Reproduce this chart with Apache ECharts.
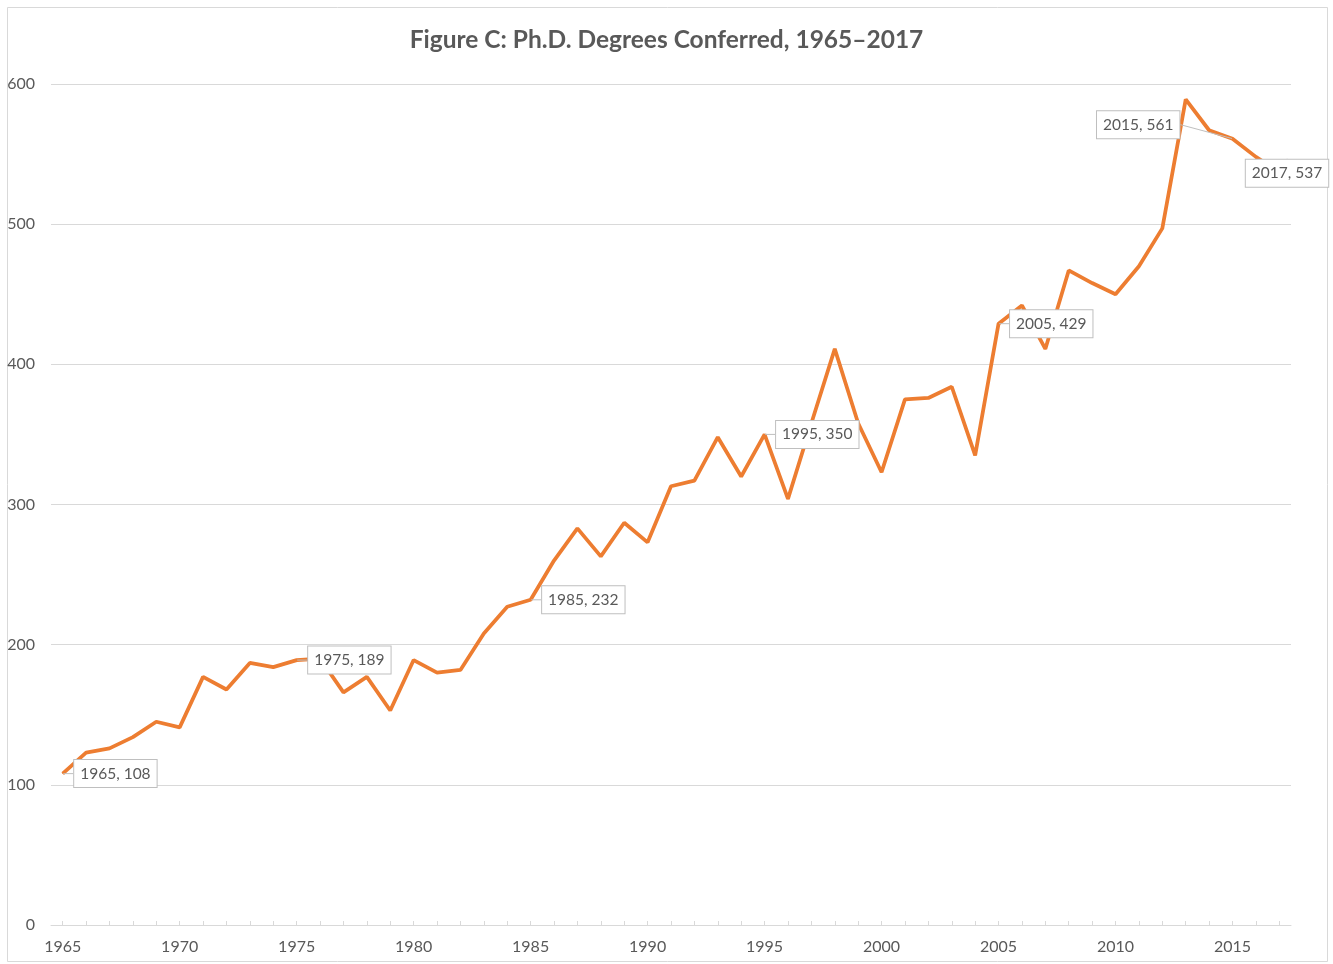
<!DOCTYPE html>
<html>
<head>
<meta charset="utf-8">
<script src="https://cdn.jsdelivr.net/npm/echarts@6/dist/echarts.min.js"></script>
<style>
html,body{margin:0;padding:0;background:#fff;}
#chart{width:1333px;height:964px;}
</style>
</head>
<body>
<div id="chart"></div>
<script>
const titleText = 'Figure C: Ph.D. Degrees Conferred, 1965–2017';
const years = ['1965','1966','1967','1968','1969','1970','1971','1972','1973','1974',
  '1975','1976','1977','1978','1979','1980','1981','1982','1983','1984',
  '1985','1986','1987','1988','1989','1990','1991','1992','1993','1994',
  '1995','1996','1997','1998','1999','2000','2001','2002','2003','2004',
  '2005','2006','2007','2008','2009','2010','2011','2012','2013','2014',
  '2015','2016','2017'];
const degrees = [108,123,126,134,145,141,177,168,187,184,
  189,190,166,177,153,189,180,182,208,227,
  232,260,283,263,287,273,313,317,348,320,
  350,304,358,411,358,323,375,376,384,335,
  429,442,411,467,458,450,470,497,589,567,
  561,548,537];
const labelledYears = ['1965','1975','1985','1995','2005','2015','2017'];
const yTicks = [0,100,200,300,400,500,600];

const txt = '#595959';
const font = 'Lato, "Open Sans", sans-serif';

const seriesData = degrees.map((v, i) => {
  const item = { value: v };
  if (labelledYears.includes(years[i])) {
    item.label = { show: true };
  }
  return item;
});

const chart = echarts.init(document.getElementById('chart'));
chart.setOption({
  backgroundColor: '#fff',
  animation: false,
  title: {
    text: titleText,
    left: 'center',
    top: 28,
    padding: 0,
    textStyle: { fontFamily: font, fontSize: 24.5, fontWeight: 'bold', color: txt }
  },
  graphic: [{
    type: 'rect',
    shape: { x: 7.5, y: 7.5, width: 1320, height: 954 },
    style: { fill: 'none', stroke: '#d9d9d9', lineWidth: 1 },
    silent: true, z: -10
  }],
  grid: { left: 51, right: 42, top: 84, bottom: 39, containLabel: false },
  xAxis: {
    type: 'category',
    data: years,
    boundaryGap: true,
    axisLine: { lineStyle: { color: '#d9d9d9', width: 1 } },
    axisTick: { show: true, inside: true, length: 4, interval: 0, alignWithLabel: true, lineStyle: { color: '#d9d9d9' } },
    axisLabel: { interval: 4, color: txt, fontSize: 16, fontFamily: font, margin: 14 },
    splitLine: { show: false }
  },
  yAxis: {
    type: 'value',
    min: yTicks[0], max: yTicks[yTicks.length - 1], interval: 100,
    axisLine: { show: false },
    axisTick: { show: false },
    axisLabel: { color: txt, fontSize: 16, fontFamily: font, margin: 16 },
    splitLine: { lineStyle: { color: '#d9d9d9', width: 1 } }
  },
  series: [{
    type: 'line',
    data: seriesData,
    symbol: 'circle',
    symbolSize: 1,
    showSymbol: true,
    itemStyle: { color: '#ED7D31' },
    lineStyle: { color: '#ED7D31', width: 3.75 },
    label: {
      show: false,
      position: 'right',
      distance: 11,
      formatter: p => years[p.dataIndex] + ', ' + p.value,
      backgroundColor: '#fff',
      borderColor: '#bfbfbf',
      borderWidth: 1,
      padding: [5, 6, 4, 6],
      color: txt,
      fontSize: 15.5,
      lineHeight: 18,
      fontFamily: font
    },
    labelLine: { show: true, lineStyle: { color: '#bfbfbf', width: 1 } },
    labelLayout: function (params) {
      const y = years[params.dataIndex];
      if (y === '2015') return { dx: -147, dy: -14 };
      if (y === '2017') return { dx: -45, dy: 1 };
      return {};
    },
    z: 5
  }]
});
</script>
</body>
</html>
